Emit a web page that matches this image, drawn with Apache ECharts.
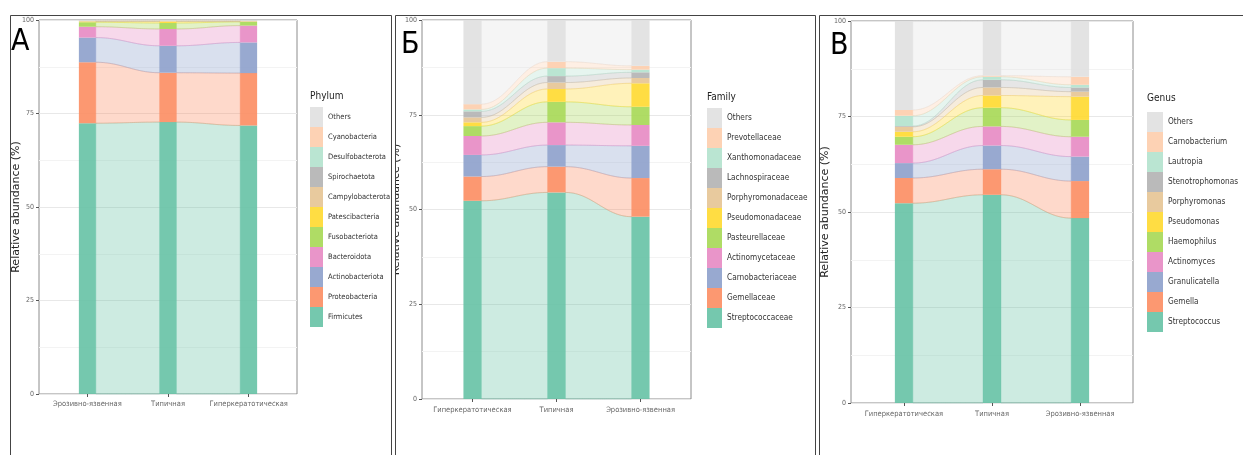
<!DOCTYPE html>
<html>
<head>
<meta charset="utf-8">
<script src="https://cdn.jsdelivr.net/npm/echarts@6/dist/echarts.min.js"></script>
<style>
  html, body { margin: 0; padding: 0; background: #fff; }
  #main { width: 1243px; height: 455px; }
</style>
</head>
<body>
<div id="main"></div>
<script>
// ---- данные (снизу вверх по стопке) ----
var taxaPhylum = ['Firmicutes', 'Proteobacteria', 'Actinobacteriota', 'Bacteroidota', 'Fusobacteriota',
  'Patescibacteria', 'Campylobacterota', 'Spirochaetota', 'Desulfobacterota', 'Cyanobacteria', 'Others'];
var groupsPhylum = ['Эрозивно-язвенная', 'Типичная', 'Гиперкератотическая'];
var erosivePhylum = [72.4, 16.3, 6.6, 2.9, 1.2, 0.2, 0.1, 0.1, 0.05, 0.05, 0.1];
var typicalPhylum = [72.7, 13.2, 7.2, 4.5, 1.6, 0.4, 0.1, 0.1, 0.05, 0.05, 0.1];
var hyperPhylum   = [71.8, 14.0, 8.2, 4.5, 1.0, 0.1, 0.1, 0.1, 0.05, 0.05, 0.1];

var taxaFamily = ['Streptococcaceae', 'Gemellaceae', 'Carnobacteriaceae', 'Actinomycetaceae', 'Pasteurellaceae',
  'Pseudomonadaceae', 'Porphyromonadaceae', 'Lachnospiraceae', 'Xanthomonadaceae', 'Prevotellaceae', 'Others'];
var groupsFamily = ['Гиперкератотическая', 'Типичная', 'Эрозивно-язвенная'];
var hyperFamily   = [52.3, 6.4, 5.7, 5.0, 2.6, 1.0, 1.3, 1.6, 0.5, 1.4, 22.2];
var typicalFamily = [54.5, 6.8, 5.7, 6.0, 5.4, 3.4, 1.7, 1.7, 2.1, 1.7, 11.0];
var erosiveFamily = [48.1, 10.2, 8.5, 5.5, 4.8, 6.2, 1.4, 1.5, 0.7, 1.0, 12.1];

var taxaGenus = ['Streptococcus', 'Gemella', 'Granulicatella', 'Actinomyces', 'Haemophilus',
  'Pseudomonas', 'Porphyromonas', 'Stenotrophomonas', 'Lautropia', 'Carnobacterium', 'Others'];
var groupsGenus = ['Гиперкератотическая', 'Типичная', 'Эрозивно-язвенная'];
var hyperGenus   = [52.3, 6.6, 3.9, 4.8, 2.1, 1.3, 1.3, 0.2, 2.7, 1.5, 23.3];
var typicalGenus = [54.5, 6.7, 6.2, 5.0, 4.9, 3.2, 2.1, 2.0, 0.8, 0.3, 14.3];
var erosiveGenus = [48.4, 9.7, 6.4, 5.2, 4.4, 6.1, 1.3, 1.1, 0.7, 2.1, 14.6];

var palette = ['#66C2A5', '#FC8D62', '#8DA0CB', '#E78AC3', '#A6D854', '#FFD92F',
  '#E5C494', '#B3B3B3', '#B3E2CD', '#FDCDAC', '#E0E0E0'];

var fontC = '"DejaVu Sans Condensed", "DejaVu Sans", sans-serif';
var fontN = '"DejaVu Sans", sans-serif';

// панели
var panels = [
  { tag: 'А', title: 'Phylum', taxa: taxaPhylum, groups: groupsPhylum,
    values: [erosivePhylum, typicalPhylum, hyperPhylum],
    grid: { left: 39, top: 20, width: 258, height: 374 }, barW: 17, nameGap: 17, labelMargin: 6,
    legend: [310, 107, 13, 7.5], titlePos: [310, 98], tagPos: [11, 42] },
  { tag: 'Б', title: 'Family', taxa: taxaFamily, groups: groupsFamily,
    values: [hyperFamily, typicalFamily, erosiveFamily],
    grid: { left: 422, top: 20, width: 269, height: 379 }, barW: 18, nameGap: 20, labelMargin: 7,
    legend: [707, 108, 15, 8.2], titlePos: [707, 99], tagPos: [401, 45] },
  { tag: 'В', title: 'Genus', taxa: taxaGenus, groups: groupsGenus,
    values: [hyperGenus, typicalGenus, erosiveGenus],
    grid: { left: 851, top: 21, width: 282, height: 382 }, barW: 18, nameGap: 20, labelMargin: 7,
    legend: [1147, 112, 16, 8.2], titlePos: [1147, 100], tagPos: [830, 46] }
];

function rgba(hex, a) {
  var n = parseInt(hex.slice(1), 16);
  return 'rgba(' + (n >> 16) + ',' + ((n >> 8) & 255) + ',' + (n & 255) + ',' + a + ')';
}

function cum(arr, k) {
  var s = 0;
  for (var i = 0; i < k; i++) s += arr[i];
  return s;
}

// S-образная кривая между краями столбцов
function curve(x0, y0, x1, y1) {
  var pts = [], k = 0.4;
  var c0 = x0 + (x1 - x0) * k, c1 = x1 - (x1 - x0) * k;
  for (var i = 0; i <= 30; i++) {
    var t = i / 30, m = 1 - t;
    pts.push([
      m * m * m * x0 + 3 * m * m * t * c0 + 3 * m * t * t * c1 + t * t * t * x1,
      m * m * m * y0 + 3 * m * m * t * y0 + 3 * m * t * t * y1 + t * t * t * y1
    ]);
  }
  return pts;
}

var grids = [], xAxes = [], yAxes = [], series = [], legends = [], graphics = [];

panels.forEach(function (p, pi) {
  grids.push({ left: p.grid.left, top: p.grid.top, width: p.grid.width, height: p.grid.height,
    show: true, borderColor: '#8c8c8c', borderWidth: 1 });

  xAxes.push({
    type: 'value', gridIndex: pi, min: 0.4, max: 3.6,
    axisLine: { show: false },
    splitLine: { show: false },
    axisTick: { show: true, customValues: [1, 2, 3], length: 3, lineStyle: { color: '#555' } },
    axisLabel: {
      customValues: [1, 2, 3], fontSize: 7.5, color: '#666', margin: p.labelMargin, fontFamily: fontC,
      formatter: function (v) { return p.groups[Math.round(v) - 1] || ''; }
    }
  });

  yAxes.push({
    type: 'value', gridIndex: pi, min: 0, max: 100, interval: 25,
    name: 'Relative abundance (%)', nameLocation: 'middle', nameGap: p.nameGap,
    nameMoveOverlap: false,
    nameTextStyle: { fontSize: 11, color: '#222', fontFamily: fontN },
    axisLine: { show: false },
    axisTick: { show: true, length: 3, lineStyle: { color: '#555' } },
    axisLabel: { fontSize: 7, color: '#666', margin: 5, fontFamily: fontC },
    splitLine: { lineStyle: { color: '#e8e8e8', width: 1 } },
    minorTick: { show: false, splitNumber: 2 },
    minorSplitLine: { show: true, lineStyle: { color: '#f3f3f3', width: 1 } }
  });

  // потоки между столбцами
  var flows = [];
  for (var g = 0; g < p.values.length - 1; g++) {
    for (var k = 0; k < p.taxa.length; k++) flows.push([g, k]);
  }
  series.push({
    type: 'custom', name: 'flows' + pi, xAxisIndex: pi, yAxisIndex: pi, z: 1, silent: true,
    data: flows,
    renderItem: function (params, api) {
      var g = api.value(0), k = api.value(1);
      var a = p.values[g], b = p.values[g + 1];
      var a0 = cum(a, k), b0 = cum(b, k);
      var pa0 = api.coord([g + 1, a0]), pa1 = api.coord([g + 1, a0 + a[k]]);
      var pb0 = api.coord([g + 2, b0]), pb1 = api.coord([g + 2, b0 + b[k]]);
      var xa = pa0[0] + p.barW / 2, xb = pb0[0] - p.barW / 2;
      var top = curve(xa, pa1[1], xb, pb1[1]);
      var bot = curve(xa, pa0[1], xb, pb0[1]).reverse();
      return {
        type: 'polygon',
        shape: { points: top.concat(bot) },
        style: { fill: rgba(palette[k], 0.33), stroke: rgba(palette[k], 0.55), lineWidth: 0.6 }
      };
    }
  });

  // столбцы (стопка считается здесь же)
  p.taxa.forEach(function (name, k) {
    series.push({
      type: 'custom', name: name, xAxisIndex: pi, yAxisIndex: pi, z: 3, silent: true,
      itemStyle: { color: rgba(palette[k], 0.9) },
      data: p.values.map(function (col, gi) { return [gi + 1, col[k]]; }),
      renderItem: function (params, api) {
        var gi = params.dataIndex;
        var base = cum(p.values[gi], k);
        var p0 = api.coord([gi + 1, base]);
        var p1 = api.coord([gi + 1, base + api.value(1)]);
        return {
          type: 'rect',
          shape: { x: p0[0] - p.barW / 2, y: p1[1], width: p.barW, height: p0[1] - p1[1] },
          style: { fill: rgba(palette[k], 0.9) }
        };
      }
    });
  });

  legends.push({
    orient: 'vertical', left: p.legend[0], top: p.legend[1], padding: 0,
    itemWidth: p.legend[2], itemHeight: 20, itemGap: 0, icon: 'rect', selectedMode: false,
    data: p.taxa.slice().reverse(),
    textStyle: { fontSize: p.legend[3], color: '#333', fontFamily: fontC }
  });

  graphics.push({
    type: 'text', left: p.titlePos[0], top: p.titlePos[1] - 7, z: 100,
    style: { text: p.title, fill: '#222', font: '10px ' + fontC }
  });
  graphics.push({
    type: 'text', x: p.tagPos[0], y: p.tagPos[1], z: 100,
    style: { text: p.tag, fill: '#000', font: '30px ' + fontC, textVerticalAlign: 'middle' }
  });
});

// рамки панелей
graphics.push(
  { type: 'rect', shape: { x: 391, y: 15, width: 4, height: 440 }, style: { fill: '#fff' }, z: 100 },
  { type: 'polyline', shape: { points: [[10.5, 455], [10.5, 15.5], [391.5, 15.5], [391.5, 455]] },
    style: { stroke: '#444', lineWidth: 1, fill: null }, z: 101 },
  { type: 'polyline', shape: { points: [[395.5, 455], [395.5, 15.5], [815.5, 15.5], [815.5, 455]] },
    style: { stroke: '#444', lineWidth: 1, fill: null }, z: 101 },
  { type: 'polyline', shape: { points: [[819.5, 455], [819.5, 15.5], [1243, 15.5]] },
    style: { stroke: '#444', lineWidth: 1, fill: null }, z: 101 }
);

var chart = echarts.init(document.getElementById('main'), null, { renderer: 'canvas' });
chart.setOption({
  animation: false,
  backgroundColor: '#fff',
  grid: grids,
  xAxis: xAxes,
  yAxis: yAxes,
  legend: legends,
  series: series,
  graphic: graphics
});
</script>
</body>
</html>
